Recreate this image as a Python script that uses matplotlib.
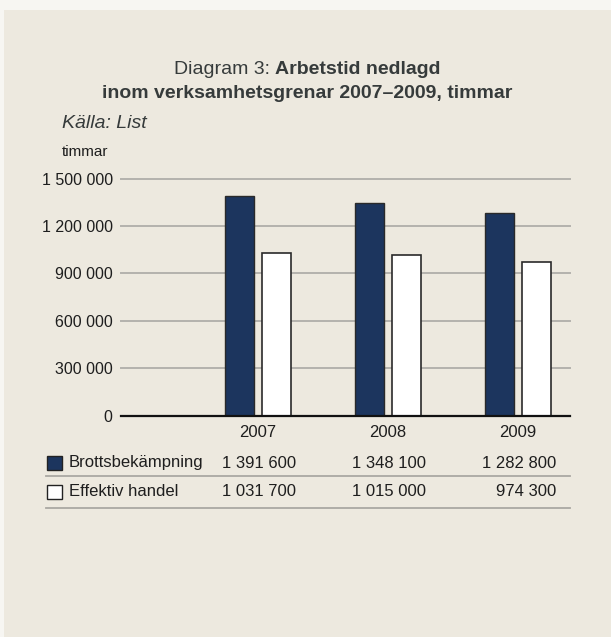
import matplotlib
matplotlib.use("Agg")
import matplotlib.pyplot as plt
from matplotlib.patches import Rectangle
from matplotlib.lines import Line2D

plt.rcParams['font.family'] = ['Liberation Sans', 'DejaVu Sans']

# data
years = ["2007", "2008", "2009"]
brott = [1391600, 1348100, 1282800]
handel = [1031700, 1015000, 974300]
series_names = ["Brottsbekämpning", "Effektiv handel"]
yticks = [0, 300000, 600000, 900000, 1200000, 1500000]

bg = '#ede9df'
navy = '#1c355e'
grid_c = '#b4b2ad'
txt = '#1e1e1e'

W, H = 611, 637
fig = plt.figure(figsize=(W / 100, H / 100), dpi=100, facecolor='#f7f6f2')


def px(x, y):
    # pixel position (from top left) -> figure fraction
    return x / W, 1 - y / H


# beige panel, leaves a thin light margin at top and left
fig.patches.append(Rectangle(px(4, H), (W - 4) / W, (H - 10) / H, facecolor=bg,
                             edgecolor='none', transform=fig.transFigure, zorder=-10))


def fmt(v):
    return f"{v:,}".replace(",", " ")


# axes: x 121..570, y(0)=415.7, y(1.5M)=178.6
ax = fig.add_axes([121 / W, (H - 415.7) / H, 449 / W, (415.7 - 178.6) / H])
ax.set_zorder(1)
ax.set_facecolor(bg)
ax.set_xlim(-1.053, 2.401)
ax.set_ylim(0, 1500000)

for t in yticks[1:]:
    ax.axhline(t, color=grid_c, lw=1.4, zorder=1, clip_on=False)

x = list(range(len(years)))
bw = 0.223
ax.bar([i - 0.1415 for i in x], brott, width=bw, color=navy,
       edgecolor='#2a2a2a', linewidth=1.0, zorder=3)
ax.bar([i + 0.141 for i in x], handel, width=bw, color='white',
       edgecolor='#2a2a2a', linewidth=1.2, zorder=3)

for s in ['top', 'right', 'left']:
    ax.spines[s].set_visible(False)
ax.spines['bottom'].set_color('#111111')
ax.spines['bottom'].set_linewidth(1.6)
ax.spines['bottom'].set_zorder(4)

ax.set_yticks(yticks)
ax.set_yticklabels([fmt(t) for t in yticks], fontsize=11.5, color=txt)
ax.tick_params(axis='y', length=0, pad=6)
ax.set_xticks(x)
ax.set_xticklabels(years, fontsize=12, color=txt)
ax.tick_params(axis='x', length=0, pad=7)

# title, mixed regular + bold on line 1
title_c = '#363b3b'
fig.canvas.draw()
r = fig.canvas.get_renderer()
t1 = fig.text(0, 0, "Diagram 3: ", fontsize=14, color=title_c)
t2 = fig.text(0, 0, "Arbetstid nedlagd", fontsize=14, fontweight='bold', color=title_c)
w1 = t1.get_window_extent(r).width
w2 = t2.get_window_extent(r).width
x0 = 307 - (w1 + w2) / 2
t1.set_position(px(x0, 69))
t1.set_va('center')
t2.set_position(px(x0 + w1, 69))
t2.set_va('center')
fig.text(*px(307, 93), "inom verksamhetsgrenar 2007–2009, timmar", fontsize=14,
         fontweight='bold', color=title_c, ha='center', va='center')

fig.text(*px(62, 123), "Källa: List", fontsize=14, style='italic', color=title_c, va='center')
fig.text(*px(62, 152), "timmar", fontsize=11, color=txt, va='center')

# table below the chart
centers = [257.9, 387.9, 517.9]
rows = [brott, handel]
row_y = [463, 492]
fills = [navy, 'white']
for vals, name, yy, fc in zip(rows, series_names, row_y, fills):
    fig.patches.append(Rectangle(px(47, yy + 7), 15 / W, 14.5 / H, facecolor=fc,
                                 edgecolor='#222222', lw=1.0, transform=fig.transFigure))
    fig.text(*px(69, yy), name, fontsize=12, color=txt, va='center')
    for c, v in zip(centers, vals):
        fig.text(*px(c + 38, yy), fmt(v), fontsize=12, color=txt, va='center', ha='right')

for ly in [476, 507.7]:
    fig.lines.append(Line2D([46 / W, 570 / W], [1 - ly / H] * 2, color='#aaa8a3',
                            lw=1.3, transform=fig.transFigure))

fig.savefig("out.png", dpi=100, facecolor=fig.get_facecolor())
